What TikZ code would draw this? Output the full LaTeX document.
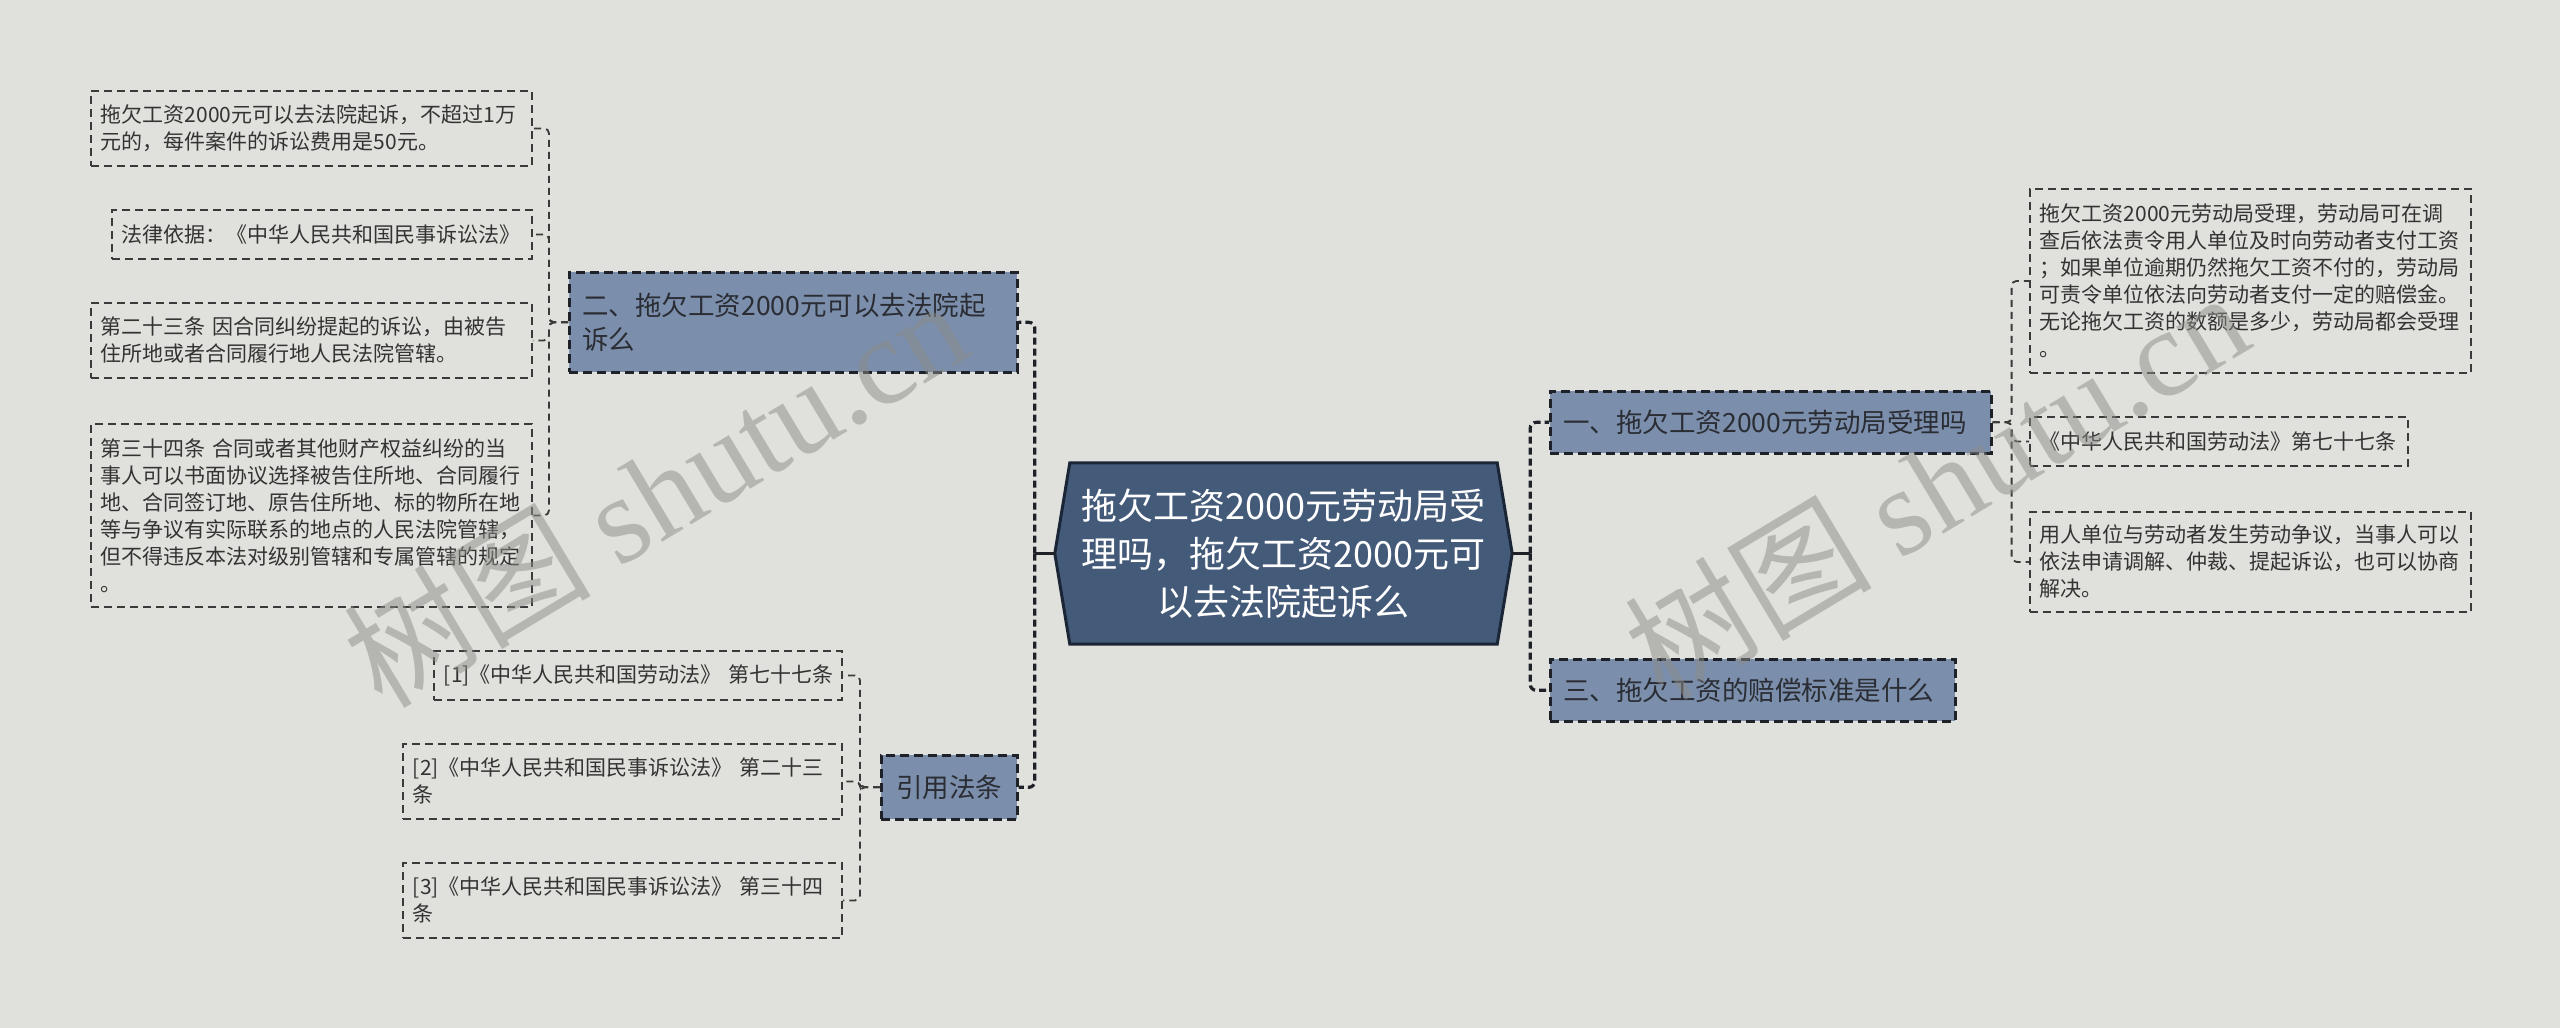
\documentclass[tikz,border=0pt]{standalone}
\usepackage{fontspec}
\setmainfont{Noto Sans CJK SC}
\newfontfamily\wmlatin{Liberation Serif}
\definecolor{bgc}{HTML}{E0E1DC}
\definecolor{rootfill}{HTML}{445A79}
\definecolor{rootline}{HTML}{1A2535}
\definecolor{topicfill}{HTML}{7B8EAC}
\definecolor{darkline}{HTML}{1E2228}
\definecolor{leafline}{HTML}{3A3A3A}
\definecolor{topictext}{HTML}{2A2D33}
\definecolor{leaftext}{HTML}{333333}
\definecolor{wmcol}{HTML}{8C8C88}
\pgfdeclarelayer{canvas}
\pgfdeclarelayer{back}
\pgfsetlayers{canvas,back,main}
\begin{document}
\begin{tikzpicture}[x=1pt,y=-1pt,
  rootnode/.style={align=center, text=white, font=\fontsize{36}{48}\selectfont,
    minimum width=427, minimum height=181, inner sep=0},
  hexc/.style={fill=rootfill, draw=rootline, line width=3, line join=miter},
  topic/.style={anchor=north west, fill=topicfill, draw=darkline, line width=2.6,
    dash pattern=on 9pt off 5pt, align=left, text=topictext,
    font=\fontsize{26.5}{34}\selectfont, inner xsep=13, inner ysep=0},
  leaf/.style={anchor=north west, draw=leafline, line width=1.8,
    dash pattern=on 8pt off 5pt, align=left, text=leaftext,
    font=\fontsize{21}{27}\selectfont, inner xsep=10, inner ysep=0},
  rootstub/.style={draw=darkline, line width=3.2},
  conn1/.style={draw=darkline, line width=3.2, dash pattern=on 7pt off 4pt, rounded corners=6},
  conn2/.style={draw=leafline, line width=1.8, dash pattern=on 7pt off 5pt, rounded corners=5},
  wm/.style={text=wmcol, text opacity=0.5, font=\fontsize{124}{124}\selectfont, rotate=31, inner sep=0}
]
\begin{pgfonlayer}{canvas}
\fill[bgc] (0,0) rectangle (2560,1028);
\end{pgfonlayer}
\useasboundingbox (0,0) rectangle (2560,1028);

% root
\node[rootnode] (root) at (1283.5,553.5) {拖欠工资2000元劳动局受\\理吗，拖欠工资2000元可\\以去法院起诉么};
\begin{pgfonlayer}{back}
\draw[hexc] (root.north west) -- (root.north east) -- ([xshift=15pt]root.east)
  -- (root.south east) -- (root.south west) -- ([xshift=-15pt]root.west) -- cycle;
\end{pgfonlayer}

% level 1
\node[topic, text width=415, minimum height=62] (n1) at (1549,390) {一、拖欠工资2000元劳动局受理吗};
\node[topic, text width=379, minimum height=62] (n3) at (1549,658) {三、拖欠工资的赔偿标准是什么};
\node[topic, text width=422, minimum height=100] (n2) at (568,271) {二、拖欠工资2000元可以去法院起\\诉么};
\node[topic, text width=110, minimum height=64, align=center] (cite) at (880,754) {引用法条};

% right leaves
\node[leaf, text width=421, minimum height=184] (ra) at (2029,188) {拖欠工资2000元劳动局受理，劳动局可在调\\查后依法责令用人单位及时向劳动者支付工资\\；如果单位逾期仍然拖欠工资不付的，劳动局\\可责令单位依法向劳动者支付一定的赔偿金。\\无论拖欠工资的数额是多少，劳动局都会受理\\。};
\node[leaf, text width=358, minimum height=49] (rb) at (2029,416) {《中华人民共和国劳动法》第七十七条};
\node[leaf, text width=421, minimum height=100] (rc) at (2029,511) {用人单位与劳动者发生劳动争议，当事人可以\\依法申请调解、仲裁、提起诉讼，也可以协商\\解决。};

% left leaves
\node[leaf, text width=421, minimum height=75] (l1) at (90,90) {拖欠工资2000元可以去法院起诉，不超过1万\\元的，每件案件的诉讼费用是50元。};
\node[leaf, text width=400, minimum height=49] (l2) at (111,209) {法律依据：《中华人民共和国民事诉讼法》};
\node[leaf, text width=421, minimum height=75] (l3) at (90,302) {第二十三条~因合同纠纷提起的诉讼，由被告\\住所地或者合同履行地人民法院管辖。};
\node[leaf, text width=421, minimum height=183] (l4) at (90,423) {第三十四条~合同或者其他财产权益纠纷的当\\事人可以书面协议选择被告住所地、合同履行\\地、合同签订地、原告住所地、标的物所在地\\等与争议有实际联系的地点的人民法院管辖，\\但不得违反本法对级别管辖和专属管辖的规定\\。};

% citation leaves
\node[leaf, text width=388, minimum height=49] (c1) at (433,650) {[1]《中华人民共和国劳动法》~第七十七条};
\node[leaf, text width=419, minimum height=75] (c2) at (402,743) {[2]《中华人民共和国民事诉讼法》~第二十三\\条};
\node[leaf, text width=419, minimum height=75] (c3) at (402,862) {[3]《中华人民共和国民事诉讼法》~第三十四\\条};

% root connectors
\draw[rootstub] ([xshift=15pt]root.east) -- ++(18,0) coordinate (rj);
\draw[conn1] (rj) |- (n1.west);
\draw[conn1] (rj) |- (n3.west);
\draw[rootstub] ([xshift=-15pt]root.west) -- ++(-20,0) coordinate (lj);
\draw[conn1] (lj) |- (n2.east);
\draw[conn1] (lj) |- (cite.east);

% leaf connectors
\draw[conn2] (n1.east) -- ++(19,0) |- (ra.west);
\draw[conn2] (n1.east) -- ++(19,0) |- (rb.west);
\draw[conn2] (n1.east) -- ++(19,0) |- (rc.west);
\draw[conn2] (n2.west) -- ++(-19,0) |- (l1.east);
\draw[conn2] (n2.west) -- ++(-19,0) |- (l2.east);
\draw[conn2] (n2.west) -- ++(-19,0) |- (l3.east);
\draw[conn2] (n2.west) -- ++(-19,0) |- (l4.east);
\draw[conn2] (cite.west) -- ++(-20,0) |- (c1.east);
\draw[conn2] (cite.west) -- ++(-20,0) |- (c2.east);
\draw[conn2] (cite.west) -- ++(-20,0) |- (c3.east);

% watermarks
\node[wm] (wm1) at (655,492) {树图 {\wmlatin shutu.cn}};
\node[wm] (wm2) at (1936,484) {树图 {\wmlatin shutu.cn}};
\end{tikzpicture}
\end{document}
